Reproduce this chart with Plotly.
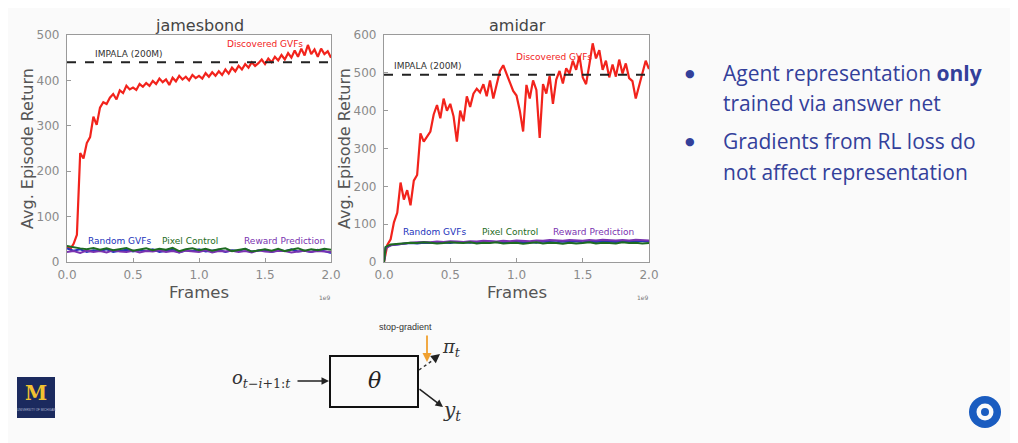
import numpy as np
import plotly.graph_objects as go

W, H = 1018, 443

# ---------------- data ----------------
frames_red = np.round(np.arange(0, 2.0001, 0.025), 3)          # 1e9 frames
frames_low = np.round(np.arange(0, 2.0001, 0.05), 3)
frames_low_amidar = np.concatenate([[0.0, 0.012], np.round(np.arange(0.05, 2.0001, 0.05), 3)])

jb_discovered = [35, 28, 40, 60, 240, 228, 262, 275, 320, 302, 340, 352, 348, 362, 370, 358,
                 378, 372, 388, 380, 384, 379, 392, 386, 394, 388, 399, 392, 404, 396, 402, 390,
                 406, 398, 410, 402, 408, 400, 412, 405, 410, 404, 416, 408, 418, 410, 420, 412,
                 424, 415, 428, 420, 432, 424, 436, 428, 440, 432, 438, 446, 436, 448, 440, 452,
                 444, 456, 446, 460, 450, 466, 452, 470, 455, 478, 458, 468, 452, 470, 458, 464, 450]
jb_random = [30, 25, 28, 22, 26, 24, 28, 22, 25, 27, 23, 26, 24, 28, 22, 25, 27, 21, 26, 24, 28,
             23, 25, 27, 22, 26, 24, 29, 23, 25, 27, 22, 26, 24, 28, 23, 25, 22, 27, 24, 20]
jb_pixel = [35, 32, 30, 28, 31, 27, 30, 26, 29, 31, 25, 28, 30, 26, 29, 27, 31, 24, 28, 30, 26,
            29, 25, 28, 30, 24, 27, 29, 23, 26, 28, 25, 29, 24, 27, 30, 25, 28, 26, 29, 27]
jb_reward = [22, 24, 20, 25, 22, 24, 21, 26, 23, 22, 25, 21, 24, 23, 26, 22, 24, 21, 25, 23, 22,
             26, 21, 24, 23, 25, 22, 24, 21, 26, 23, 22, 25, 24, 21, 23, 25, 22, 24, 23, 22]
jb_impala = 440

am_discovered = [0, 45, 60, 105, 130, 210, 165, 190, 150, 215, 230, 340, 318, 332, 345, 390,
                 415, 380, 432, 400, 418, 385, 318, 400, 372, 438, 410, 445, 458, 448, 470, 438,
                 480, 432, 472, 505, 520, 498, 478, 452, 440, 400, 345, 468, 432, 480, 455, 328,
                 470, 445, 492, 418, 482, 505, 472, 512, 498, 532, 508, 545, 488, 470, 522, 578,
                 538, 560, 508, 532, 488, 522, 490, 535, 498, 525, 486, 478, 432, 468, 500, 532, 510]
am_random = [0, 38, 44, 47, 48, 50, 49, 51, 50, 52, 51, 50, 53, 52, 51, 53, 52, 54, 52, 51, 53,
             54, 52, 53, 51, 54, 53, 52, 54, 53, 55, 52, 54, 53, 55, 54, 53, 55, 54, 56, 55, 54]
am_pixel = [0, 40, 46, 48, 50, 51, 50, 52, 51, 49, 50, 52, 51, 50, 52, 49, 51, 50, 52, 49, 50,
            51, 48, 50, 52, 49, 51, 50, 48, 51, 49, 50, 52, 49, 51, 50, 49, 52, 50, 51, 49, 50]
am_reward = [0, 36, 44, 47, 49, 51, 52, 53, 52, 54, 53, 55, 54, 53, 55, 54, 56, 55, 54, 56, 55,
             57, 56, 55, 57, 56, 58, 57, 56, 58, 57, 56, 58, 57, 59, 58, 57, 58, 57, 59, 58, 57]
am_impala = 495

x_ticks = [0.0, 0.5, 1.0, 1.5, 2.0]
jb_y_ticks = [0, 100, 200, 300, 400, 500]
am_y_ticks = [0, 100, 200, 300, 400, 500, 600]

bullets = ["Agent representation <b>only</b>", "trained via answer net",
           "Gradients from RL loss do", "not affect representation"]

# ---------------- styles ----------------
RED = "#f2231c"
BLUE = "#2233bb"
GREEN = "#1e6b22"
PURPLE = "#7a33b0"
TXT = "#555555"
SLIDE = "#33409a"
PFONT = "DejaVu Sans"
OFF = 8  # page body margin offset


def px(x):
    return (x - OFF) / W


def py(y):
    return 1 - (y - OFF) / H


fig = go.Figure()

# jamesbond
fig.add_trace(go.Scatter(x=frames_red, y=jb_discovered, mode="lines", line=dict(color=RED, width=2.2),
                         xaxis="x", yaxis="y", showlegend=False))
fig.add_trace(go.Scatter(x=frames_low, y=jb_random, mode="lines", line=dict(color=BLUE, width=2),
                         xaxis="x", yaxis="y", showlegend=False))
fig.add_trace(go.Scatter(x=frames_low, y=jb_reward, mode="lines", line=dict(color=PURPLE, width=2),
                         xaxis="x", yaxis="y", showlegend=False))
fig.add_trace(go.Scatter(x=frames_low, y=jb_pixel, mode="lines", line=dict(color=GREEN, width=2),
                         xaxis="x", yaxis="y", showlegend=False))
fig.add_trace(go.Scatter(x=[0, 2.0], y=[jb_impala, jb_impala], mode="lines",
                         line=dict(color="#222222", width=2, dash="dash"),
                         xaxis="x", yaxis="y", showlegend=False))

# amidar
fig.add_trace(go.Scatter(x=frames_red, y=am_discovered, mode="lines", line=dict(color=RED, width=2.2),
                         xaxis="x2", yaxis="y2", showlegend=False))
fig.add_trace(go.Scatter(x=frames_low_amidar, y=am_random, mode="lines", line=dict(color=BLUE, width=2),
                         xaxis="x2", yaxis="y2", showlegend=False))
fig.add_trace(go.Scatter(x=frames_low_amidar, y=am_reward, mode="lines", line=dict(color=PURPLE, width=2),
                         xaxis="x2", yaxis="y2", showlegend=False))
fig.add_trace(go.Scatter(x=frames_low_amidar, y=am_pixel, mode="lines", line=dict(color=GREEN, width=2),
                         xaxis="x2", yaxis="y2", showlegend=False))
fig.add_trace(go.Scatter(x=[0, 2.0], y=[am_impala, am_impala], mode="lines",
                         line=dict(color="#222222", width=2, dash="dash"),
                         xaxis="x2", yaxis="y2", showlegend=False))

axis_common = dict(showgrid=False, zeroline=False, showline=True, mirror=True, linecolor="#9a9a9a",
                   linewidth=1.2, ticks="inside", ticklen=4, tickcolor="#9a9a9a", automargin=False,
                   tickfont=dict(family=PFONT, size=12, color="#8a8a8a"))

fig.update_layout(
    width=W, height=H, margin=dict(l=0, r=0, t=0, b=0, pad=0, autoexpand=False),
    paper_bgcolor="#fafafa", plot_bgcolor="#ffffff",
    xaxis=dict(domain=[px(67), px(331)], range=[0, 2.0], tickvals=x_ticks, tickformat=".1f",
               anchor="y", ticklabelstandoff=1, **axis_common),
    yaxis=dict(domain=[py(262), py(35)], range=[0, 500], tickvals=jb_y_ticks, anchor="x",
               ticklabelstandoff=4, **axis_common),
    xaxis2=dict(domain=[px(384), px(649)], range=[0, 2.0], tickvals=x_ticks, tickformat=".1f",
                anchor="y2", ticklabelstandoff=1, **axis_common),
    yaxis2=dict(domain=[py(262), py(35)], range=[0, 600], tickvals=am_y_ticks, anchor="x2",
                ticklabelstandoff=4, **axis_common),
)

ann = []


def t(text, x, y, size, color, xanchor="center", yanchor="middle", family=PFONT, angle=0, **kw):
    ann.append(dict(text=text, x=px(x), y=py(y), xref="paper", yref="paper", showarrow=False,
                    xanchor=xanchor, yanchor=yanchor, textangle=angle,
                    font=dict(family=family, size=size, color=color), **kw))


# plot titles and axis titles
t("jamesbond", 199, 26, 16, "#444444")
t("amidar", 517, 26, 16, "#444444")
t("Frames", 199, 292, 16.5, TXT)
t("Frames", 517, 292, 16.5, TXT)
t("Avg. Episode Return", 28, 149, 16, TXT, angle=-90)
t("Avg. Episode Return", 345, 149, 16, TXT, angle=-90)
t("1e9", 325, 297, 6, "#777777")
t("1e9", 643, 297, 6, "#777777")


# in-plot labels (data coords)
def d(text, x, y, size, color, xref, yref, xanchor="center"):
    ann.append(dict(text=text, x=x, y=y, xref=xref, yref=yref, showarrow=False, xanchor=xanchor,
                    yanchor="middle", font=dict(family=PFONT, size=size, color=color)))


d("IMPALA (200M)", 0.20, 459, 9, "#333333", "x", "y", "left")
d("Discovered GVFs", 1.50, 480, 9, RED, "x", "y")
d("Random GVFs", 0.40, 46, 9, BLUE, "x", "y")
d("Pixel Control", 0.93, 46, 9, GREEN, "x", "y")
d("Reward Prediction", 1.65, 46, 9, PURPLE, "x", "y")

d("IMPALA (200M)", 0.06, 518, 9, "#333333", "x2", "y2", "left")
d("Discovered GVFs", 1.28, 543, 9, RED, "x2", "y2")
d("Random GVFs", 0.38, 78, 9, BLUE, "x2", "y2")
d("Pixel Control", 0.95, 78, 9, GREEN, "x2", "y2")
d("Reward Prediction", 1.58, 78, 9, PURPLE, "x2", "y2")

# bullets
BF = "Open Sans"
for txt, y, dot in zip(bullets, [73, 103, 141, 172], [True, False, True, False]):
    if dot:
        t("●", 690, y, 11, SLIDE, family="DejaVu Sans")
    t(txt, 721, y, 21, SLIDE, xanchor="left", family=BF)

# diagram
shapes = []
shapes.append(dict(type="rect", xref="paper", yref="paper", x0=px(330), x1=px(418), y0=py(407), y1=py(356),
                   line=dict(color="#111111", width=2), fillcolor="rgba(0,0,0,0)"))
t("<i>θ</i>", 374, 380, 22, "#222222", family="DejaVu Serif")
t("<i>o</i><sub><i>t</i>−<i>i</i>+1:<i>t</i></sub>", 293, 379, 18, "#333333", xanchor="right",
  family="DejaVu Serif")
t("<i>π</i><sub><i>t</i></sub>", 440, 348, 18, "#333333", xanchor="left", family="DejaVu Serif")
t("<i>y</i><sub><i>t</i></sub>", 441, 411, 20, "#333333", xanchor="left", family="DejaVu Serif")
t("stop-gradient", 405, 327, 9, "#333333", family="Liberation Sans")
# input arrow
ann.append(dict(x=px(329), y=py(381), ax=-33, ay=0, xref="paper", yref="paper", axref="pixel",
                ayref="pixel", showarrow=True, arrowhead=2, arrowsize=1, arrowwidth=1.5,
                arrowcolor="#222222", text=""))
# y_t arrow
ann.append(dict(x=px(443), y=py(407), ax=-25, ay=-19, xref="paper", yref="paper", showarrow=True,
                arrowhead=2, arrowsize=1, arrowwidth=1.5, arrowcolor="#222222", text=""))
# pi_t dashed line + head
shapes.append(dict(type="line", xref="paper", yref="paper", x0=px(419), y0=py(370), x1=px(433), y1=py(360),
                   line=dict(color="#333333", width=1.5, dash="dot")))
ann.append(dict(x=px(440), y=py(354), ax=-5, ay=4, xref="paper", yref="paper", showarrow=True,
                arrowhead=2, arrowsize=1.2, arrowwidth=1.5, arrowcolor="#222222", text=""))
# stop-gradient orange arrow
ann.append(dict(x=px(427), y=py(362), ax=0, ay=-28, xref="paper", yref="paper", showarrow=True,
                arrowhead=2, arrowsize=1, arrowwidth=1.8, arrowcolor="#f0a030", text=""))

# Michigan logo
shapes.append(dict(type="rect", xref="paper", yref="paper", x0=px(17), x1=px(55), y0=py(418), y1=py(377),
                   line=dict(width=0), fillcolor="#1b2a5e"))
t("<b>M</b>", 36, 393, 20, "#f2c230", family="DejaVu Serif")
t("UNIVERSITY OF MICHIGAN", 36, 410, 3, "#b0b8d0", family="Liberation Sans")

# DeepMind-like logo
for r, c in [(16, "#1a5cc0"), (8.5, "#fafafa"), (4, "#1a5cc0")]:
    shapes.append(dict(type="circle", xref="paper", yref="paper", x0=px(985 - r), x1=px(985 + r),
                       y0=py(412 + r), y1=py(412 - r), line=dict(width=0), fillcolor=c))

fig.update_layout(annotations=ann, shapes=shapes)
fig.write_html("out.html")
